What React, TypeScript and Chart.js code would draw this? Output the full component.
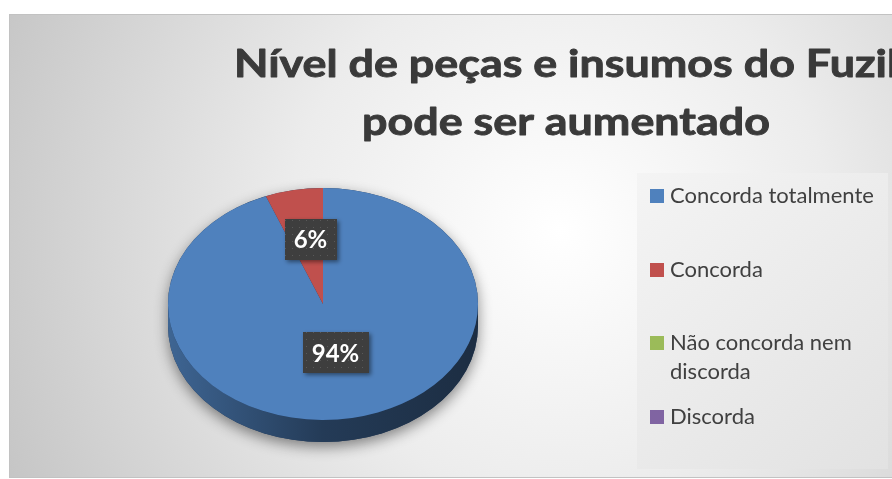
import React, { useEffect, useRef } from "react";
import { Chart, registerables } from "chart.js";
Chart.register(...registerables);

const CATEGORIES = ["Concorda totalmente", "Concorda", "Não concorda nem discorda", "Discorda"];
const LEGEND_LINES = [["Concorda totalmente"], ["Concorda"], ["Não concorda nem", "discorda"], ["Discorda"]];
const VALUES = [94, 6, 0, 0];
const COLORS = ["#4F81BD", "#C0504D", "#9BBB59", "#8064A2"];
const TITLE_LINES = ["Nível de peças e insumos do Fuzil", "pode ser aumentado"];

const W = 940;
const H = 464;
const TILT = 116 / 155;
const DEPTH = 22;

function shade(hex: string, k: number) {
  const n = parseInt(hex.slice(1), 16);
  const r = Math.round(((n >> 16) & 255) * k);
  const g = Math.round(((n >> 8) & 255) * k);
  const b = Math.round((n & 255) * k);
  return `rgb(${r},${g},${b})`;
}

let dotPattern: CanvasPattern | null = null;
function getPattern(ctx: CanvasRenderingContext2D) {
  if (dotPattern) return dotPattern;
  const c = document.createElement("canvas");
  c.width = 7;
  c.height = 7;
  const p = c.getContext("2d")!;
  p.fillStyle = "#3e3e3e";
  p.fillRect(0, 0, 7, 7);
  p.fillStyle = "#595959";
  p.fillRect(3, 3, 1, 1);
  dotPattern = ctx.createPattern(c, "repeat");
  return dotPattern;
}

const backgroundPlugin = {
  id: "bgPlugin",
  beforeDraw(chart: any) {
    const ctx: CanvasRenderingContext2D = chart.ctx;
    ctx.save();
    const g = ctx.createRadialGradient(551, 216, 0, 551, 216, 600);
    g.addColorStop(0, "#ffffff");
    g.addColorStop(0.45, "#ececec");
    g.addColorStop(1, "#c6c6c6");
    ctx.fillStyle = g;
    ctx.fillRect(0, 0, W, H);
    ctx.strokeStyle = "#c2c2c2";
    ctx.lineWidth = 1;
    ctx.strokeRect(0.5, 0.5, W - 1, H - 1);
    // legend box
    const lg = ctx.createLinearGradient(628, 159, 879, 455);
    lg.addColorStop(0, "#f4f4f4");
    lg.addColorStop(1, "#e2e2e2");
    ctx.fillStyle = lg;
    ctx.fillRect(628, 159, 251, 296);
    ctx.restore();
  },
};

const pie3dPlugin = {
  id: "pie3d",
  beforeDatasetsDraw(chart: any) {
    const ctx: CanvasRenderingContext2D = chart.ctx;
    const meta = chart.getDatasetMeta(0);
    const a0 = meta.data[0];
    const cx = a0.x;
    const cy = a0.y;
    const r = a0.outerRadius;
    const ry = r * TILT;
    ctx.save();
    // drop shadow silhouette
    ctx.save();
    ctx.shadowColor = "rgba(0,0,0,0.45)";
    ctx.shadowBlur = 14;
    ctx.shadowOffsetY = 5;
    ctx.beginPath();
    ctx.ellipse(cx, cy, r, ry, 0, Math.PI, 0);
    ctx.ellipse(cx, cy + DEPTH, r, ry, 0, 0, Math.PI);
    ctx.closePath();
    ctx.fillStyle = "#233a5a";
    ctx.fill();
    ctx.restore();
    // sides
    meta.data.forEach((arc: any, i: number) => {
      const s = arc.startAngle;
      const e = arc.endAngle;
      if (e - s <= 0) return;
      const base = COLORS[i];
      const grad = ctx.createLinearGradient(cx - r, 0, cx + r, 0);
      grad.addColorStop(0, shade(base, 0.78));
      grad.addColorStop(0.5, shade(base, 0.46));
      grad.addColorStop(1, shade(base, 0.35));
      for (const k of [-2 * Math.PI, 0, 2 * Math.PI]) {
        const lo = Math.max(s, k);
        const hi = Math.min(e, k + Math.PI);
        if (hi > lo) {
          ctx.beginPath();
          ctx.ellipse(cx, cy, r, ry, 0, lo, hi);
          ctx.ellipse(cx, cy + DEPTH, r, ry, 0, hi, lo, true);
          ctx.closePath();
          ctx.fillStyle = grad;
          ctx.fill();
        }
      }
    });
    ctx.translate(cx, cy);
    ctx.scale(1, TILT);
    ctx.translate(-cx, -cy);
  },
  afterDatasetsDraw(chart: any) {
    chart.ctx.restore();
  },
};

const textPlugin = {
  id: "texts",
  afterDraw(chart: any) {
    const ctx: CanvasRenderingContext2D = chart.ctx;
    ctx.save();
    // title
    ctx.font = "bold 38px Lato";
    ctx.fillStyle = "#3a3a3a";
    ctx.strokeStyle = "#3a3a3a";
    ctx.lineWidth = 0.9;
    ctx.lineJoin = "round";
    ctx.textBaseline = "alphabetic";
    ctx.textAlign = "center";
    const w2 = ctx.measureText(TITLE_LINES[1]).width;
    const sx = 408 / w2;
    const tBase = [63, 121];
    TITLE_LINES.forEach((t, i) => {
      ctx.save();
      ctx.translate(557, tBase[i]);
      ctx.scale(sx, 1);
      ctx.fillText(t, 0, 0);
      ctx.strokeText(t, 0, 0);
      ctx.restore();
    });

    // legend
    const baselines = [[189], [263], [336, 365], [410]];
    ctx.font = "22px Lato";
    ctx.textAlign = "left";
    LEGEND_LINES.forEach((lines, i) => {
      const b = baselines[i];
      ctx.fillStyle = COLORS[i];
      ctx.fillRect(641, b[0] - 14, 14, 14);
      ctx.fillStyle = "#404040";
      lines.forEach((t, j) => ctx.fillText(t, 661, b[j]));
    });

    // data labels
    const meta = chart.getDatasetMeta(0);
    const total = VALUES.reduce((a, b) => a + b, 0);
    ctx.font = "bold 24px Lato";
    ctx.textAlign = "center";
    ctx.textBaseline = "middle";
    meta.data.forEach((arc: any, i: number) => {
      const v = VALUES[i];
      if (!v) return;
      const share = v / total;
      const mid = (arc.startAngle + arc.endAngle) / 2;
      const f = share > 0.5 ? 0.43 : 0.57;
      const r = arc.outerRadius;
      const x = arc.x + Math.cos(mid) * r * f + (share > 0.5 ? 0 : 4);
      const y = arc.y + Math.sin(mid) * r * TILT * f;
      const txt = Math.round(share * 100) + "%";
      const tw = ctx.measureText(txt).width;
      const bw = tw + 18;
      const bh = 41;
      ctx.save();
      ctx.shadowColor = "rgba(0,0,0,0.45)";
      ctx.shadowBlur = 4;
      ctx.shadowOffsetX = 2;
      ctx.shadowOffsetY = 2;
      ctx.fillStyle = getPattern(ctx) || "#404040";
      ctx.fillRect(Math.round(x - bw / 2), Math.round(y - bh / 2), Math.round(bw), bh);
      ctx.restore();
      ctx.fillStyle = "#ffffff";
      ctx.fillText(txt, x, y + 1);
    });
    ctx.restore();
  },
};

export default function App() {
  const ref = useRef<HTMLCanvasElement>(null);
  useEffect(() => {
    const chart = new Chart(ref.current!, {
      type: "pie",
      data: {
        labels: CATEGORIES,
        datasets: [
          {
            data: VALUES,
            backgroundColor: COLORS,
            borderWidth: 0,
          },
        ],
      },
      options: {
        animation: false,
        responsive: false,
        devicePixelRatio: 1,
        layout: { padding: { left: 159, right: 471, top: 135, bottom: 19 } },
        plugins: {
          legend: { display: false },
          title: { display: false },
          tooltip: { enabled: false },
        },
      },
      plugins: [backgroundPlugin, pie3dPlugin, textPlugin],
    } as any);
    return () => chart.destroy();
  }, []);
  return (
    <div
      style={{
        position: "fixed",
        left: 0,
        top: 0,
        width: 892,
        height: 479,
        overflow: "hidden",
        background: "#ffffff",
      }}
    >
      <canvas
        ref={ref}
        width={W}
        height={H}
        style={{ position: "absolute", left: 9, top: 14, width: W, height: H }}
      />
    </div>
  );
}
